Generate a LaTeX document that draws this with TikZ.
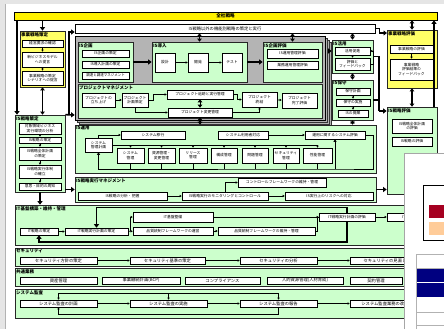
\documentclass[tikz,border=0pt]{standalone}
\usepackage{fontspec}
\setmainfont{Noto Sans CJK JP}
\usetikzlibrary{arrows.meta}
\definecolor{grpgreen}{HTML}{CCFFCC}
\definecolor{boxyellow}{HTML}{FFFF66}
\definecolor{areagray}{HTML}{B4B4B4}
\definecolor{darkred}{HTML}{A50021}
\definecolor{peach}{HTML}{FFCC99}
\definecolor{deepnavy}{HTML}{000080}

\begin{document}
\begin{tikzpicture}[x=1pt,y=-1pt]
  \tikzset{
    cell/.style n args={4}{at={({(#1+#3)/2},{(#2+#4)/2})},minimum width={(#3-#1)*1pt},minimum height={(#4-#2)*1pt}},
    item/.style={draw=black,fill=white,line width=0.6pt,inner sep=0pt,align=center,font=\fontsize{3.8}{4.4}\selectfont},
    wide/.style={item,font=\fontsize{4.3}{5}\selectfont},
    grp/.style={draw=black!85,fill=grpgreen,line width=0.7pt,inner sep=0pt},
    gtitle/.style={anchor=north west,inner sep=1.3pt,font=\fontsize{4.5}{5}\selectfont\bfseries},
    flow/.style={line width=1.6pt,-{Triangle[length=3.5pt,width=5pt]}},
    twoway/.style={line width=1.4pt,{Triangle[length=3pt,width=4.5pt]}-{Triangle[length=3pt,width=4.5pt]}},
    link/.style={line width=0.6pt,-{Triangle[length=2pt,width=2.2pt]}},
    wire/.style={line width=0.9pt}
  }
  \useasboundingbox (0,0) rectangle (444,329);
  \fill[white] (0,0) rectangle (444,329);
  \fill[black!10] (0,0) rectangle (444,4);
  \fill[black!10] (0,0) rectangle (5,329);
  \draw[black!30] (5,4) -- (5,329);

  % top
  \node[draw=black,fill=yellow,line width=0.7pt,inner sep=0pt,cell={14}{12}{437}{20},font=\fontsize{4.6}{5}\selectfont\bfseries] (zensha) {全社戦略};
  \node[wide,cell={75}{24}{375}{33}] (kinou) {IS戦略以外の機能別戦略の策定と実行};

  % business strategy
  \node[grp,fill=boxyellow,cell={20}{31}{65}{87}] (jsaku) {};
  \node[gtitle] (jsaku-t) at (jsaku.north west) {事業戦略策定};
  \node[item,cell={22}{40}{63}{47}] (js1) {経営要求の確認};
  \node[item,cell={22}{52}{63}{67}] (js2) {新ビジネスモデル\\への提言};
  \node[item,cell={22}{71}{63}{85}] (js3) {事業戦略の策定\\シナリオへの提言};
  \draw[link] (js1) -- (js2);
  \draw[link] (js2) -- (js3);

  % IS strategy
  \node[grp,cell={15}{115}{65}{192}] (issaku) {};
  \node[gtitle] (issaku-t) at (issaku.north west) {IS戦略策定};
  \node[item,cell={19}{123}{61}{134}] (iss1) {対象領域ビジネス\\実行環境の分析};
  \node[item,cell={19}{137}{61}{143}] (iss2) {IS戦略の策定};
  \node[item,cell={19}{147}{61}{160}] (iss3) {IS戦略全体計画\\の策定};
  \node[item,cell={19}{165}{61}{178}] (iss4) {IS戦略実行体制\\の確立};
  \node[item,cell={19}{183}{61}{190}] (iss5) {意思・目的の周知};
  \foreach \a/\b in {iss1/iss2,iss2/iss3,iss3/iss4,iss4/iss5}
    \draw[link] (\a) -- (\b);

  % IS planning area (stacked)
  \foreach \d in {6,4,2}
    \draw[black!80,fill=black!30,line width=0.5pt] (75+\d,36+\d) rectangle (325+\d,120+\d);
  \node[draw=black,fill=areagray,line width=0.7pt,cell={75}{36}{325}{120}] (isarea) {};

  \node[grp,cell={78}{42}{133}{82}] (kikaku) {};
  \node[gtitle] (kikaku-t) at (kikaku.north west) {IS企画};
  \node[item,cell={82}{50}{129}{57}] (kk1) {IS企画の策定};
  \node[item,cell={82}{61}{129}{68}] (kk2) {IS導入計画の策定};
  \node[item,cell={82}{72}{129}{79},font=\fontsize{3.5}{4}\selectfont] (kk3) {調達と調達マネジメント};

  \node[grp,cell={152}{42}{247}{82}] (dounyu) {};
  \node[gtitle] (dounyu-t) at (dounyu.north west) {IS導入};
  \node[item,cell={155}{53}{175}{72}] (dn1) {設計};
  \node[item,cell={188}{53}{208}{72}] (dn2) {開発};
  \node[item,cell={222}{53}{242}{72}] (dn3) {テスト};
  \draw[link,line width=0.8pt] (dn1) -- (dn2);
  \draw[link,line width=0.8pt] (dn2) -- (dn3);

  \node[grp,cell={263}{42}{322}{82}] (kyk) {};
  \node[gtitle] (kyk-t) at (kyk.north west) {IS企画評価};
  \node[item,cell={267}{49}{318}{58}] (kh1) {IS運用管理評価};
  \node[item,cell={267}{61}{318}{69}] (kh2) {業務運用管理評価};

  \draw[flow] (kikaku) -- (dounyu);
  \draw[flow] (dounyu) -- (kyk);

  % project management
  \node[grp,cell={78}{84}{322}{118}] (pm) {};
  \node[gtitle] (pm-t) at (pm.north west) {プロジェクトマネジメント};
  \node[item,cell={82}{93}{115}{107}] (pm1) {プロジェクトの\\立ち上げ};
  \node[item,cell={122}{93}{148}{107}] (pm2) {プロジェクト\\計画策定};
  \node[item,cell={167}{90}{233}{99}] (pm3) {プロジェクト追跡と実行管理};
  \node[item,cell={168}{108}{232}{117}] (pm4) {プロジェクト変更管理};
  \node[item,cell={242}{92}{277}{107}] (pm5) {プロジェクト\\終結};
  \node[item,cell={282}{93}{317}{108}] (pm6) {プロジェクト\\完了評価};
  \draw[link] (pm1) -- (pm2);
  \draw[link] (pm2.east) -- ++(5,0) |- (pm3.west);
  \draw[link] (pm3.east) -- ++(4,0) |- (pm5.west);
  \draw[link] (pm5) -- (pm6);
  \draw[link] (pm2.south) |- (pm4.west);
  \draw[link] (pm4.east) -| (pm5.south);
  \draw[twoway,line width=0.8pt] (pm3.south) -- (pm4.north);

  % IS use / maintenance
  \node[grp,cell={332}{40}{373}{73}] (katsu) {};
  \node[gtitle] (katsu-t) at (katsu.north west) {IS活用};
  \node[item,cell={335}{47}{370}{55}] (kt1) {活用促進};
  \node[item,cell={335}{58}{370}{70}] (kt2) {評価と\\フィードバック};
  \draw[link] (kt1) -- (kt2);
  \draw[link] (kt2.east) -- ++(2.5,0) |- (kt1.east);

  \node[grp,cell={332}{80}{373}{120}] (hoshu) {};
  \node[gtitle] (hoshu-t) at (hoshu.north west) {IS保守};
  \node[item,cell={336}{88}{370}{95}] (hs1) {保守計画};
  \node[item,cell={336}{99}{370}{106}] (hs2) {保守の実施};
  \node[item,cell={338}{110}{368}{117}] (hs3) {ISの廃棄};
  \draw[link] (hs1) -- (hs2);
  \draw[link] (hs2) -- (hs3);

  % evaluation (right)
  \node[grp,fill=boxyellow,cell={387}{30}{437}{88}] (jhyou) {};
  \node[gtitle] (jhyou-t) at (jhyou.north west) {事業戦略評価};
  \node[item,cell={390}{45}{433}{53}] (jh1) {事業戦略の評価};
  \node[item,cell={390}{59}{433}{80}] (jh2) {事業戦略\\評価結果の\\フィードバック};
  \draw[link] (jh1) -- (jh2);

  \node[grp,cell={387}{107}{437}{194}] (ishyou) {};
  \node[gtitle] (ishyou-t) at (ishyou.north west) {IS戦略評価};
  \node[item,cell={392}{119}{432}{133}] (ih1) {IS戦略全体計画\\の評価};
  \node[item,cell={392}{137}{432}{146}] (ih2) {IS戦略の評価};

  % IS operation
  \node[grp,cell={75}{125}{376}{173}] (isops) {};
  \node[gtitle] (isops-t) at (isops.north west) {IS運用};
  \node[item,cell={85}{138}{112}{152}] (sysplan) {システム\\管理計画};
  \node[item,cell={121}{131}{185}{139}] (migr) {システム移行};
  \node[item,cell={218}{131}{268}{139}] (usr) {システム利用者対応};
  \node[item,cell={305}{131}{365}{139}] (opsev) {運用に関するシステム評価};
  \node[item,cell={117}{148}{144}{163}] (ops1) {システム\\管理};
  \node[item,cell={148}{148}{175}{163}] (ops2) {資源管理・\\変更管理};
  \node[item,cell={179}{148}{207}{163}] (ops3) {リリース\\管理};
  \node[item,cell={211}{148}{237}{163}] (ops4) {構成管理};
  \node[item,cell={242}{148}{268}{163}] (ops5) {問題管理};
  \node[item,cell={273}{148}{299}{163}] (ops6) {セキュリティ\\管理};
  \node[item,cell={303}{148}{332}{163}] (ops7) {性能管理};
  \coordinate (opsbus) at (335,169);
  \draw[link] (sysplan.north) |- (migr.west);
  \draw[link] (usr) -- (opsev);
  \draw[wire] (sysplan.east) -- (sysplan.east -| ops7.north);
  \foreach \o in {ops1,ops2,ops3,ops4,ops5,ops6,ops7} {
    \draw[link] (\o.north |- sysplan.east) -- (\o.north);
    \draw[wire] (\o.south) -- (\o.south |- opsbus);
  }
  \draw[wire,-{Triangle[length=2.5pt,width=3pt]}] (opsev.east) -- ++(8,0) |- (opsbus) -| (sysplan.south);
  \draw[wire,-{Triangle[length=2.5pt,width=3pt]}] (opsbus) -- (opsbus |- opsev.south);

  % IS strategy execution management
  \node[grp,cell={75}{177}{376}{202}] (mgmt) {};
  \node[gtitle] (mgmt-t) at (mgmt.north west) {IS戦略実行マネジメント};
  \node[item,cell={78}{192}{167}{200}] (ana) {IS戦略の分析・把握};
  \node[item,cell={182}{192}{268}{200}] (mon) {IS戦略実行のモニタリングとコントロール};
  \node[item,cell={238}{178}{326}{187}] (cfw) {コントロールフレームワークの維持・管理};
  \node[item,cell={285}{192}{373}{200}] (risk) {IS実行上のリスクへの対応};
  \draw[link] (ana) -- (mon);
  \draw[link] (mon) -- (risk);
  \draw[link,line width=0.9pt] (mon.north) |- (cfw.west);

  % IT infrastructure
  \node[grp,cell={15}{205}{441}{245}] (itg) {};
  \node[gtitle] (itg-t) at (itg.north west) {IT基盤構築・維持・管理};
  \node[item,cell={20}{228}{58}{235}] (its) {IT戦略の策定};
  \node[item,cell={65}{228}{128}{235}] (itp) {IT戦略実行計画の策定};
  \node[item,cell={133}{212}{213}{222}] (itk) {IT基盤整備};
  \node[item,cell={133}{227}{213}{235}] (qop) {品質統制フレームワークの運営};
  \node[item,cell={218}{227}{315}{235}] (qmt) {品質統制フレームワークの維持・管理};
  \node[item,cell={319}{213}{375}{221}] (itev) {IT戦略実行計画の評価};
  \node[item,cell={387}{213}{440}{221}] (itr) {IT戦略の評価};
  \coordinate (itl) at (96.5,207.5);
  \coordinate (fb) at (39,242);
  \draw[link] (its) -- (itp);
  \draw[link] (itp) -- (qop);
  \draw[link] (qop.west) ++(-2.5,0) |- (itk.west);
  \draw[link] (qop) -- (qmt);
  \draw[link] (qmt.east) -- ++(2,0) |- (itev.west);
  \draw[wire] (itk) -- (itev);
  \draw[link] (itev) -- (itr);
  \draw[flow,line width=1.3pt] (itev.north) |- (itl) -- (itp.north);
  \draw[flow,line width=1.3pt] (itev.south) |- (fb) -- (its.south);

  % security
  \node[grp,cell={15}{248}{441}{266}] (secg) {};
  \node[gtitle] (secg-t) at (secg.north west) {セキュリティ};
  \node[wide,cell={20}{257}{97}{264}] (sec1) {セキュリティ方針の策定};
  \node[wide,cell={130}{257}{205}{264}] (sec2) {セキュリティ基準の策定};
  \node[wide,cell={240}{257}{317}{264}] (sec3) {セキュリティの分析};
  \node[wide,cell={350}{257}{420}{264}] (sec4) {セキュリティの見直し};
  \draw[link] (sec1) -- (sec2);
  \draw[link] (sec2) -- (sec3);
  \draw[link] (sec3) -- (sec4);

  % common tasks
  \node[grp,cell={15}{268}{441}{286}] (comg) {};
  \node[gtitle] (comg-t) at (comg.north west) {共通業務};
  \node[wide,cell={20}{277}{97}{284}] (com1) {資産管理};
  \node[wide,cell={102}{277}{180}{284}] (com2) {事業継続計画(BCP)};
  \node[wide,cell={185}{277}{260}{284}] (com3) {コンプライアンス};
  \node[wide,cell={267}{277}{343}{284}] (com4) {人的資源管理(人材育成)};
  \node[wide,cell={350}{277}{402}{284}] (com5) {契約管理};

  % system audit
  \node[grp,cell={15}{289}{441}{318}] (audg) {};
  \node[gtitle] (audg-t) at (audg.north west) {システム監査};
  \node[wide,cell={20}{300}{97}{307}] (aud1) {システム監査の計画};
  \node[wide,cell={130}{300}{207}{307}] (aud2) {システム監査の実施};
  \node[wide,cell={240}{300}{317}{307}] (aud3) {システム監査の報告};
  \node[wide,cell={350}{300}{420}{307}] (aud4) {システム監査業務の改善};
  \coordinate (audtop) at (58.5,293);
  \coordinate (audbot) at (58.5,314);
  \draw[link] (aud1) -- (aud2);
  \draw[link] (aud2) -- (aud3);
  \draw[link] (aud3) -- (aud4);
  \draw[wire,line width=0.6pt] (audtop) -- (audtop -| aud3.north);
  \foreach \a in {aud1,aud2,aud3}
    \draw[link] (\a.north |- audtop) -- (\a.north);
  \draw[link] (aud3.south) |- (audbot) -- (aud1.south);

  % main connectors
  \coordinate (lft) at (17,20);
  \coordinate (vtop) at (69,32);
  \coordinate (vbot) at (69,115);
  \coordinate (jin) at (387,33);
  \coordinate (rtop) at (379,56.5);
  \coordinate (rbot) at (379,111);
  \coordinate (rr) at (434,107);
  \draw[flow] (jsaku.north |- zensha.south) -- (jsaku.north);
  \draw[flow] (lft) -- (lft |- issaku.north);
  \draw[twoway] (jsaku.south) -- (jsaku.south |- issaku.north);
  \draw[flow] (issaku.north east) -- (isarea.west |- vbot);
  \draw[flow] (vbot) -- (vtop) -- (isarea.west |- vtop);
  \draw[flow] (issaku.east |- mgmt) -- (mgmt.west);
  \draw[flow] (issaku.south) -- (issaku.south |- itg.north);
  \draw[twoway] (dounyu.north |- kinou.south) -- (dounyu.north);
  \draw[twoway] (kyk.north |- kinou.south) -- (kyk.north);
  \draw[twoway] (katsu.north |- kinou.south) -- (katsu.north);
  \draw[flow] (kyk.east |- kt1) ++(6,0) -- (katsu.west |- kt1);
  \draw[twoway] (katsu.south) -- (hoshu.north);
  \draw[twoway] (hoshu.south) -- (hoshu.south |- isops.north);
  \draw[twoway] (pm4.south) -- (pm4.south |- isops.north);
  \draw[flow] (kinou.east) -- ++(4,0) |- (jin);
  \draw[line width=1.4pt] (katsu.east) -- (rtop) -- (rbot);
  \draw[line width=1.4pt] (hoshu.east) -- (hoshu.east -| rtop);
  \draw[flow] (rbot) -- (rbot -| ishyou.west);
  \draw[twoway] (jhyou.north |- zensha.south) -- (jhyou.north);
  \draw[twoway] (jhyou.south) -- (jhyou.south |- ishyou.north);
  \draw[flow] (rr) -- (rr |- zensha.south);
  \draw[flow] (mgmt.east) -- (mgmt.east -| ishyou.west);

  % overlapping window
  \fill[white] (404,153) rectangle (444,329);
  \draw[black!35,line width=0.5pt] (404,329) -- (404,153) -- (444,153);
  \draw[black,line width=0.8pt] (444,185) -- (423,185) -- (423,240) -- (444,240);
  \fill[darkred] (429,205) rectangle (444,218);
  \fill[peach] (429,222) rectangle (444,235);
  \fill[deepnavy] (416,268) rectangle (444,282);
  \fill[deepnavy] (416,283) rectangle (444,297);
  \draw[black!30,line width=0.5pt] (416,329) -- (416,254) -- (444,254);
  \foreach \r in {268,312,325}
    \draw[black!30,line width=0.5pt] (416,\r) -- (444,\r);
\end{tikzpicture}
\end{document}
